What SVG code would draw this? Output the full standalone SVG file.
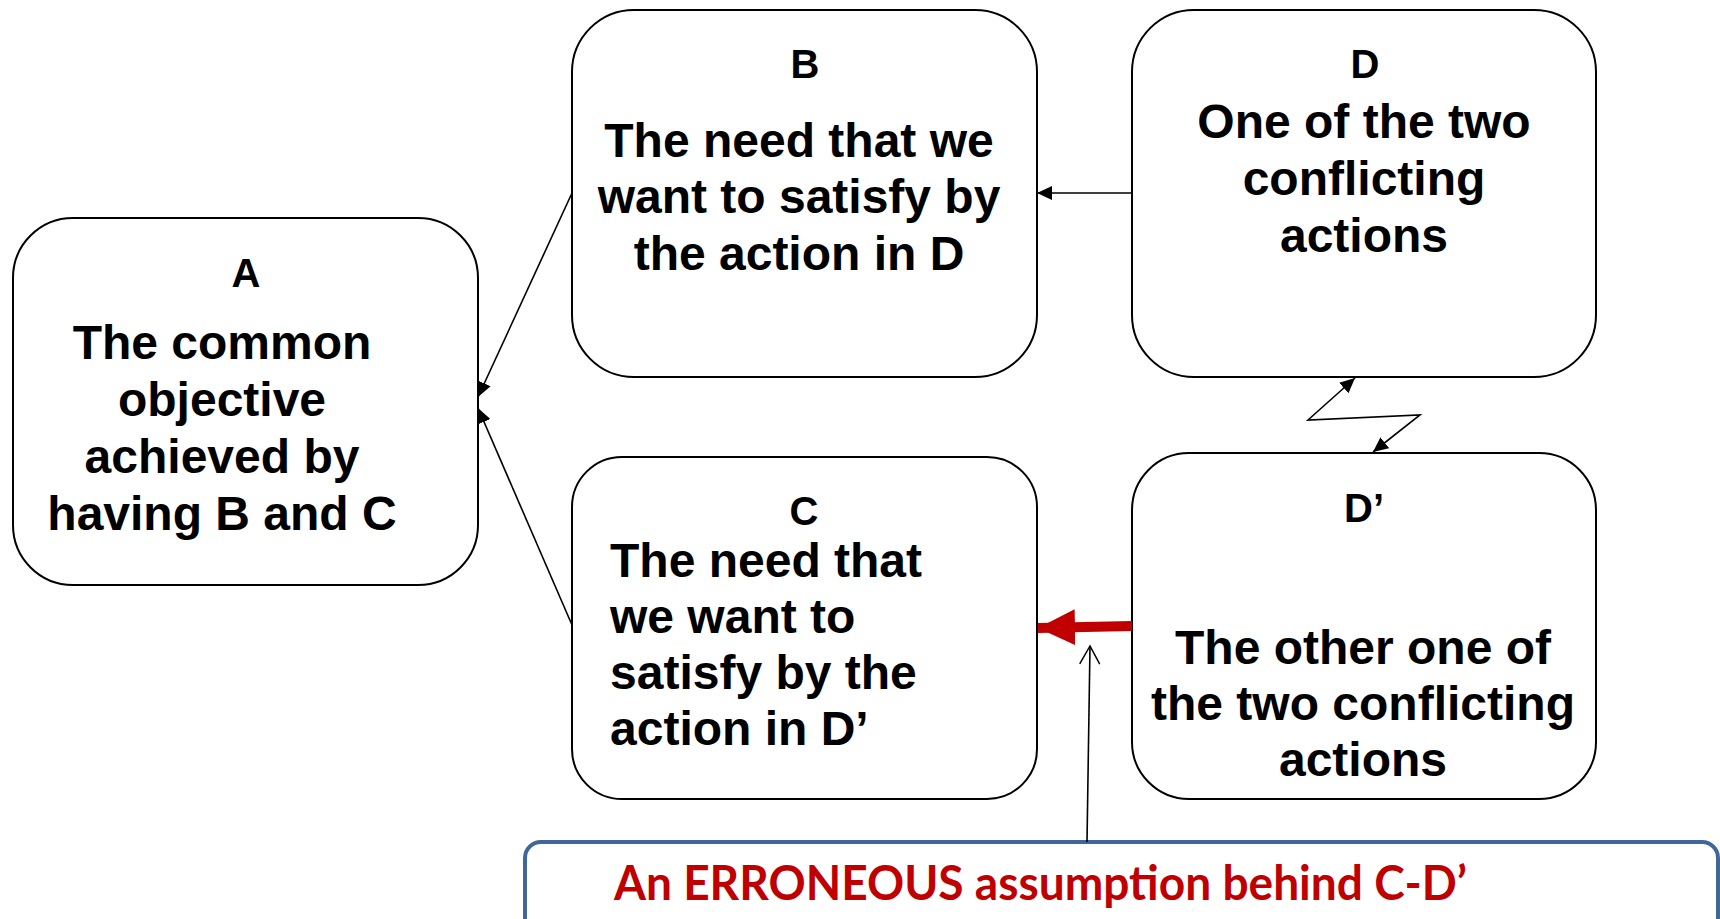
<svg xmlns="http://www.w3.org/2000/svg" width="1720" height="919" viewBox="0 0 1720 919">
<style>
.box{fill:#fff;stroke:#000;stroke-width:2}
.lbl{font-family:"Liberation Sans",Arial,sans-serif;font-weight:bold;font-size:40px;fill:#000;text-anchor:middle}
.txt{font-family:"Liberation Sans",Arial,sans-serif;font-weight:bold;font-size:48px;fill:#000;text-anchor:middle}
.txtl{font-family:"Liberation Sans",Arial,sans-serif;font-weight:bold;font-size:48px;fill:#000}
.con{fill:none;stroke:#000;stroke-width:1.6}
.red{fill:none;stroke:#C00000;stroke-width:10}
.note{fill:#fff;stroke:#41679A;stroke-width:4}
.notetxt{font-family:Lato,"Liberation Sans",sans-serif;font-weight:bold;font-size:48px;fill:#C00000}
</style>
<defs>
<marker id="ah" markerUnits="userSpaceOnUse" markerWidth="16" markerHeight="14" refX="15" refY="7" orient="auto">
<path d="M0,0 L15,7 L0,14 Z" fill="#000"/>
</marker>
<marker id="ahs" markerUnits="userSpaceOnUse" markerWidth="16" markerHeight="14" refX="15" refY="7" orient="auto-start-reverse">
<path d="M0,0 L15,7 L0,14 Z" fill="#000"/>
</marker>
<marker id="open" markerUnits="userSpaceOnUse" markerWidth="22" markerHeight="24" refX="19" refY="11" orient="auto">
<path d="M1,1 L19,11 L1,21" fill="none" stroke="#000" stroke-width="1.5"/>
</marker>
<marker id="redh" markerUnits="userSpaceOnUse" markerWidth="38" markerHeight="38" refX="37" refY="18" orient="auto">
<path d="M0,0 L37,18 L0,36 Z" fill="#C00000"/>
</marker>
</defs>

<g id="node-A">
<rect class="box" x="13" y="218" width="465" height="367" rx="60"/>
<text class="lbl" x="246" y="287">A</text>
<text class="txt"><tspan x="222" y="359">The common</tspan><tspan x="222" y="416">objective</tspan><tspan x="222" y="473">achieved by</tspan><tspan x="222" y="530">having B and C</tspan></text>
</g>

<g id="node-B">
<rect class="box" x="572" y="10" width="465" height="367" rx="62"/>
<text class="lbl" x="805" y="78">B</text>
<text class="txt"><tspan x="799" y="157">The need that we</tspan><tspan x="799" y="213">want to satisfy by</tspan><tspan x="799" y="270">the action in D</tspan></text>
</g>

<g id="node-D">
<rect class="box" x="1132" y="10" width="464" height="367" rx="62"/>
<text class="lbl" x="1365" y="78">D</text>
<text class="txt"><tspan x="1364" y="138">One of the two</tspan><tspan x="1364" y="195">conflicting</tspan><tspan x="1364" y="252">actions</tspan></text>
</g>

<g id="node-C">
<rect class="box" x="572" y="457" width="465" height="342" rx="50"/>
<text class="lbl" x="804" y="525">C</text>
<text class="txtl"><tspan x="610" y="577">The need that</tspan><tspan x="610" y="633">we want to</tspan><tspan x="610" y="689">satisfy by the</tspan><tspan x="610" y="745">action in D’</tspan></text>
</g>

<g id="node-Dp">
<rect class="box" x="1132" y="453" width="464" height="346" rx="57"/>
<text class="lbl" x="1364" y="522">D’</text>
<text class="txt"><tspan x="1363" y="664">The other one of</tspan><tspan x="1363" y="720">the two conflicting</tspan><tspan x="1363" y="776">actions</tspan></text>
</g>

<g id="node-note">
<rect class="note" x="525" y="842" width="1193" height="120" rx="16"/>
<text class="notetxt" x="614" y="900" textLength="853" lengthAdjust="spacingAndGlyphs">An ERRONEOUS assumption behind C-D’</text>
</g>

<g id="connectors">
<path class="con" d="M572,193 L478,397" marker-end="url(#ah)"/>
<path class="con" d="M572,625 L478,408" marker-end="url(#ah)"/>
<path class="con" d="M1132,193 L1037,193" marker-end="url(#ah)"/>
<path class="con" d="M1355,378 L1308,420 L1420,415 L1373,452" marker-start="url(#ahs)" marker-end="url(#ah)"/>
<path class="red" d="M1132,626 L1038,628" marker-end="url(#redh)"/>
<path class="con" d="M1087,842 L1090,646" marker-end="url(#open)"/>
</g>
</svg>
